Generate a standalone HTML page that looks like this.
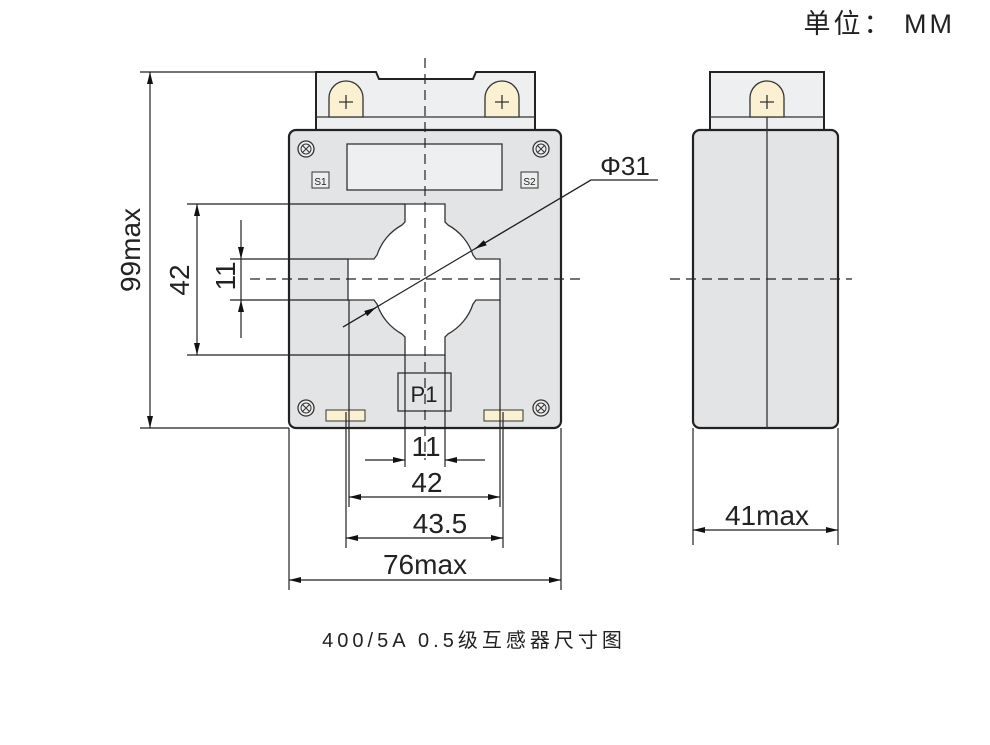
<!DOCTYPE html>
<html><head><meta charset="utf-8"><style>
html,body{margin:0;padding:0;background:#fff;}
svg{display:block;}
text{font-family:"Liberation Sans","Noto Sans CJK SC",sans-serif;fill:#222;}
</style></head><body>
<svg width="990" height="745" viewBox="0 0 990 745" xmlns="http://www.w3.org/2000/svg">
<defs>
<marker id="a" viewBox="0 0 12 6" refX="12" refY="3" markerWidth="12" markerHeight="6" orient="auto-start-reverse" markerUnits="userSpaceOnUse"><path d="M0,0 L12,3 L0,6 z" fill="#111"/></marker>
<g id="scr"><circle r="8" fill="#eee" stroke="#333" stroke-width="1.3"/><circle r="5" fill="none" stroke="#333" stroke-width="1"/><path d="M-3.5,-3.5L3.5,3.5M-3.5,3.5L3.5,-3.5" stroke="#333" stroke-width="1"/></g>
<g id="term"><path d="M-17,17 V-2 A17,17 0 0 1 17,-2 V17 z" fill="#fbf0d2" stroke="#333" stroke-width="1.3"/><path d="M-7,2H7M0,-5V9" stroke="#333" stroke-width="1.3"/></g>
</defs>
<text x="955" y="33" font-size="27" text-anchor="end" letter-spacing="3" fill="#333">单位： MM</text>

<path d="M316,130 V72 H376 L379,79 H473 L476,72 H535 V130" fill="#eeeff0" stroke="#222" stroke-width="2"/>
<line x1="316" y1="117" x2="535" y2="117" stroke="#333" stroke-width="1.3"/>
<use href="#term" x="346" y="100"/>
<use href="#term" x="502" y="100"/>
<rect x="289" y="130" width="272" height="298" rx="7" fill="#e3e4e6" stroke="#222" stroke-width="2.2"/>
<rect x="347" y="144" width="155" height="46" fill="#eeeff0" stroke="#333" stroke-width="1.3"/>
<rect x="312" y="172" width="17" height="16" fill="#eee" stroke="#333"/><text x="320.5" y="185" font-size="10" text-anchor="middle">S1</text>
<rect x="521" y="172" width="17" height="16" fill="#eee" stroke="#333"/><text x="529.5" y="185" font-size="10" text-anchor="middle">S2</text>
<use href="#scr" x="306" y="149"/><use href="#scr" x="541" y="149"/>
<use href="#scr" x="306" y="408"/><use href="#scr" x="541" y="408"/>
<path d="M405,204 H445 V222 L448,225 A53,53 0 0 1 473,255 L476,259 H500 V300 H476 L473,304 A53,53 0 0 1 448,334 L445,337 V355 H405 V337 L402,334 A53,53 0 0 1 377,304 L374,300 H348 V259 H374 L377,255 A53,53 0 0 1 402,225 L405,222 z" fill="#fff" stroke="#333" stroke-width="1.3"/>
<rect x="398" y="373" width="53" height="38" fill="none" stroke="#333" stroke-width="1.3"/>
<text x="424" y="402" font-size="22" text-anchor="middle">P1</text>
<rect x="326" y="410" width="39" height="11" fill="#fbf0d2" stroke="#333"/>
<rect x="484" y="410" width="39" height="11" fill="#fbf0d2" stroke="#333"/>

<rect x="710" y="72" width="114" height="58" fill="#eeeff0" stroke="#222" stroke-width="2"/>
<line x1="710" y1="117" x2="824" y2="117" stroke="#333" stroke-width="1.3"/>
<use href="#term" x="767" y="100"/>
<rect x="693" y="130" width="145" height="298" rx="7" fill="#e3e4e6" stroke="#222" stroke-width="2.2"/>
<line x1="767" y1="117" x2="767" y2="428" stroke="#333" stroke-width="1.3"/>

<g stroke="#222" stroke-width="1.2" fill="none">
<line x1="425" y1="58" x2="425" y2="460" stroke-dasharray="10,6"/>
<line x1="250" y1="279" x2="582" y2="279" stroke-dasharray="10,6"/>
<line x1="670" y1="279" x2="852" y2="279" stroke-dasharray="10,6"/>
<line x1="140" y1="72" x2="316" y2="72"/>
<line x1="140" y1="428" x2="289" y2="428"/>
<line x1="187" y1="204" x2="405" y2="204"/>
<line x1="187" y1="355" x2="405" y2="355"/>
<line x1="230" y1="259" x2="348" y2="259"/>
<line x1="230" y1="300" x2="348" y2="300"/>
<line x1="405" y1="355" x2="405" y2="467"/>
<line x1="445" y1="355" x2="445" y2="467"/>
<line x1="349" y1="300" x2="349" y2="507"/>
<line x1="500" y1="300" x2="500" y2="507"/>
<line x1="346" y1="412" x2="346" y2="548"/>
<line x1="503" y1="412" x2="503" y2="548"/>
<line x1="289" y1="428" x2="289" y2="590"/>
<line x1="561" y1="428" x2="561" y2="590"/>
<line x1="693" y1="428" x2="693" y2="545"/>
<line x1="838" y1="428" x2="838" y2="545"/>
<line x1="150" y1="72" x2="150" y2="428" marker-start="url(#a)" marker-end="url(#a)"/>
<line x1="197" y1="204" x2="197" y2="355" marker-start="url(#a)" marker-end="url(#a)"/>
<line x1="241" y1="220" x2="241" y2="259" marker-end="url(#a)"/>
<line x1="241" y1="338" x2="241" y2="300" marker-end="url(#a)"/>
<line x1="241" y1="259" x2="241" y2="300"/>
<line x1="365" y1="460" x2="405" y2="460" marker-end="url(#a)"/>
<line x1="485" y1="460" x2="445" y2="460" marker-end="url(#a)"/>
<line x1="349" y1="497" x2="500" y2="497" marker-start="url(#a)" marker-end="url(#a)"/>
<line x1="346" y1="538" x2="503" y2="538" marker-start="url(#a)" marker-end="url(#a)"/>
<line x1="289" y1="580" x2="561" y2="580" marker-start="url(#a)" marker-end="url(#a)"/>
<line x1="693" y1="530" x2="838" y2="530" marker-start="url(#a)" marker-end="url(#a)"/>
<polyline points="343,327 591,180 658,180"/>
<line x1="343" y1="327" x2="376" y2="307.5" marker-end="url(#a)"/>
<line x1="591" y1="180" x2="475" y2="248.8" marker-end="url(#a)"/>
</g>
<text x="625" y="175" font-size="26" text-anchor="middle">Φ31</text>
<text transform="translate(140,250) rotate(-90)" font-size="28" text-anchor="middle">99max</text>
<text transform="translate(189,280) rotate(-90)" font-size="28" text-anchor="middle">42</text>
<text transform="translate(235,276) rotate(-90)" font-size="28" text-anchor="middle">11</text>
<text x="426" y="456" font-size="28" text-anchor="middle">11</text>
<text x="427" y="492" font-size="28" text-anchor="middle">42</text>
<text x="440" y="533" font-size="28" text-anchor="middle">43.5</text>
<text x="425" y="574" font-size="28" text-anchor="middle">76max</text>
<text x="767" y="525" font-size="28" text-anchor="middle">41max</text>
<text x="474" y="647" font-size="20" text-anchor="middle" letter-spacing="4" fill="#444">400/5A 0.5级互感器尺寸图</text>
</svg>
</body></html>
